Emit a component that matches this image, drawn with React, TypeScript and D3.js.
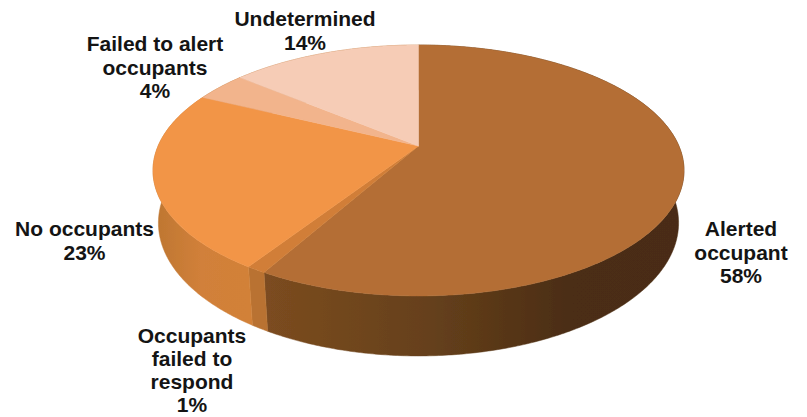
import React, { useMemo } from "react";
import * as d3 from "d3";

const categories = ["Alerted occupant", "Occupants failed to respond", "No occupants", "Failed to alert occupants", "Undetermined"];
const values = [58.2, 1, 23, 3.8, 14];
const topColors = ["#b46e34", "#d17e37", "#f29547", "#f2b48c", "#f6ccb6"];
const wallStops: string[][] = [
  ["#7c4c20", "#65401b", "#4b2d13", "#4a2c13"],
  ["#b97230", "#b97230"],
  ["#bd7631", "#d1803a", "#d28138"],
  ["#b87332", "#b87332"],
  ["#b87332", "#b87332"],
];
const labelLines = [
  ["Alerted", "occupant", "58%"],
  ["Occupants", "failed to", "respond", "1%"],
  ["No occupants", "23%"],
  ["Failed to alert", "occupants", "4%"],
  ["Undetermined", "14%"],
];
const labelAnchors: [number, number][] = [
  [741, 236],
  [192, 342.5],
  [84.5, 236],
  [155, 51],
  [305, 26],
];
const labelSpacing = [23.7, 23.3, 23.7, 23.7, 23.7];
const wallRanges: [number, number][] = [
  [262, 690],
  [245, 265],
  [153, 250],
  [150, 250],
  [150, 250],
];

const W = 807, H = 417;
const CX = 418.5, CY = 146, A = 260.4, B = 120.7, K = 0.195;
const DEPTH_W = 0.02, DEPTH_Y = 52.5;

function project(theta: number, depth: boolean): [number, number] {
  const u = Math.sin(theta), v = -Math.cos(theta);
  const w = 1 - K * v + (depth ? DEPTH_W : 0);
  return [CX + (A * u) / w, CY + (B * v + (depth ? DEPTH_Y : 0)) / w];
}

function arcPoints(a0: number, a1: number, depth: boolean) {
  const n = Math.max(2, Math.ceil((a1 - a0) / 0.01));
  return d3.range(n + 1).map((i) => project(a0 + ((a1 - a0) * i) / n, depth));
}

export default function App() {
  const slices = useMemo(() => d3.pie<number>().sort(null).startAngle(0).endAngle(2 * Math.PI)(values), []);
  const line = d3.line();
  return (
    <svg
      width={W}
      height={H}
      viewBox={`0 0 ${W} ${H}`}
      style={{ position: "absolute", left: 0, top: 0, background: "#fff" }}
    >
      <defs>
        <filter id="soft" x="-5%" y="-5%" width="110%" height="110%">
          <feGaussianBlur stdDeviation="0.6" />
        </filter>
        {slices.map((_, i) => {
          const stops = wallStops[i];
          return (
            <linearGradient
              key={i}
              id={`wall${i}`}
              gradientUnits="userSpaceOnUse"
              x1={wallRanges[i][0]}
              x2={wallRanges[i][1]}
              y1={0}
              y2={0}
            >
              {stops.map((c, j) => (
                <stop
                  key={j}
                  offset={i === 0 ? [0, 0.4, 0.72, 1][j] : j / (stops.length - 1)}
                  stopColor={c}
                />
              ))}
            </linearGradient>
          );
        })}
      </defs>
      <g filter="url(#soft)">
        {slices.map((s, i) => {
          const pts = [...arcPoints(s.startAngle, s.endAngle, false), ...arcPoints(s.startAngle, s.endAngle, true).reverse()];
          return (
            <path
              key={i}
              d={(line(pts as [number, number][]) ?? "") + "Z"}
              fill={`url(#wall${i})`}
              stroke={`url(#wall${i})`}
              strokeWidth={0.5}
            />
          );
        })}
        {slices.map((s, i) => {
          const pts = [[CX, CY] as [number, number], ...arcPoints(s.startAngle, s.endAngle, false)];
          return (
            <path
              key={i}
              d={(line(pts) ?? "") + "Z"}
              fill={topColors[i]}
              stroke={topColors[i]}
              strokeWidth={0.5}
            />
          );
        })}
      </g>
      <g
        fontFamily="'Liberation Sans', Arial, sans-serif"
        fontWeight="bold"
        fontSize={21}
        fill="#141414"
        textAnchor="middle"
      >
        {categories.map((c, i) => (
          <text key={c} x={labelAnchors[i][0]} y={labelAnchors[i][1]}>
            {labelLines[i].map((l, j) => (
              <tspan key={j} x={labelAnchors[i][0]} dy={j === 0 ? 0 : labelSpacing[i]}>
                {l}
              </tspan>
            ))}
          </text>
        ))}
      </g>
    </svg>
  );
}
